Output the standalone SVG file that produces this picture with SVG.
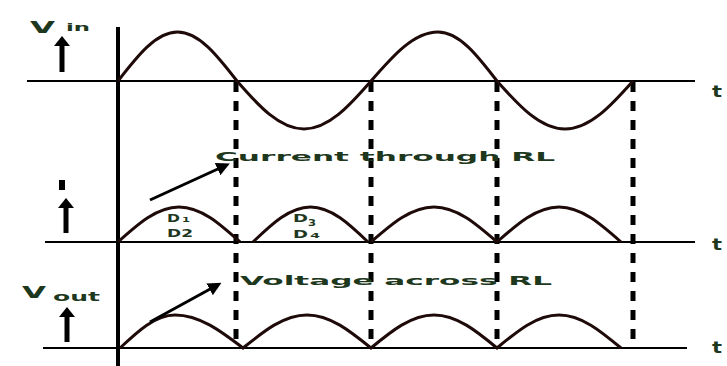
<svg xmlns="http://www.w3.org/2000/svg" width="727" height="366" viewBox="0 0 727 366">
<style>
.lbl{font-family:"DejaVu Sans","Liberation Sans",sans-serif;font-weight:bold;fill:#1e381e}
.wave{fill:none;stroke:#1f0a0a;stroke-width:3}
.base{stroke:#000;stroke-width:2}
.dash{stroke:#000;stroke-width:5;stroke-dasharray:10 9}
.shaft{stroke:#000;stroke-width:5}
.ptr{stroke:#000;stroke-width:3;marker-end:url(#ah)}
</style>
<defs>
<marker id="ah" viewBox="0 0 10 10" refX="2" refY="5" markerWidth="4.5" markerHeight="4.5" orient="auto">
<path d="M0,0 L10,5 L0,10 z" fill="#000"/>
</marker>
</defs>
<rect width="727" height="366" fill="#fff"/>
<g id="axes">
<line class="base" x1="27" y1="81" x2="695" y2="81"/>
<line class="base" x1="45" y1="242" x2="695" y2="242"/>
<line class="base" x1="43" y1="348" x2="687" y2="348"/>
<line x1="118" y1="27" x2="118" y2="366" stroke="#000" stroke-width="4"/>
</g>
<g id="dashes">
<line class="dash" x1="236" y1="82" x2="236" y2="348"/>
<line class="dash" x1="371" y1="82" x2="371" y2="348"/>
<line class="dash" x1="497" y1="82" x2="497" y2="348"/>
<line class="dash" x1="633" y1="82" x2="633" y2="348"/>
</g>
<g id="vin-wave">
<path class="wave" d="M118,81 C137.4,55.9 156,32 177.5,32 C199,32 217.6,55.9 237,81 C258.8,106.1 279.7,129 304,129 C328.3,129 349.2,106.1 371,81 C392.8,55.9 413.7,32 438,32 C459.4,32 477.8,55.9 497,81 C519.2,106.1 540.4,129 565,129 C589.6,129 610.8,106.1 633,81"/>
</g>
<g id="current-wave">
<path class="wave" d="M118,242 C137.9,224.1 156.9,207 179,207 C201.1,207 220.1,224.1 240,242"/>
<path class="wave" d="M253,242 C271.7,224.1 289.7,207 310.5,207 C331.3,207 349.3,224.1 368,242"/>
<path class="wave" d="M371,242 C391.5,224.1 411.2,207 434,207 C456.8,207 476.5,224.1 497,242"/>
<path class="wave" d="M497,242 C517.2,224.1 536.6,207 559,207 C581.4,207 600.8,224.1 621,242"/>
</g>
<g id="vout-wave">
<path class="wave" d="M120,348 C137.9,331.1 155.1,315 175,315 C199.6,315 220.8,331.1 243,348 C263.9,331.1 283.8,315 307,315 C330.2,315 350.1,331.1 371,348 C391.5,331.1 411.2,315 434,315 C456.8,315 476.5,331.1 497,348 C517.2,331.1 536.6,315 559,315 C581.4,315 600.8,331.1 621,348"/>
</g>
<g id="up-arrows">
<line class="shaft" x1="62" y1="44" x2="62" y2="72"/>
<path d="M54,46 L62,36 L70,46 z" fill="#000"/>
<rect x="59" y="180" width="6" height="10" fill="#000"/>
<line class="shaft" x1="66" y1="206" x2="66" y2="233"/>
<path d="M58,208 L66,198 L74,208 z" fill="#000"/>
<line class="shaft" x1="67" y1="315" x2="67" y2="342"/>
<path d="M59,317 L67,307 L75,317 z" fill="#000"/>
</g>
<g id="pointers">
<line class="ptr" x1="150" y1="200" x2="220" y2="168"/>
<line class="ptr" x1="150" y1="322" x2="212" y2="288"/>
</g>
<g id="labels">
<text class="lbl" x="30" y="33" font-size="15" textLength="25" lengthAdjust="spacingAndGlyphs">V</text>
<text class="lbl" x="66" y="31" font-size="11" textLength="24" lengthAdjust="spacingAndGlyphs">in</text>
<text class="lbl" x="22" y="298" font-size="15" textLength="24" lengthAdjust="spacingAndGlyphs">V</text>
<text class="lbl" x="53" y="301" font-size="13" textLength="47" lengthAdjust="spacingAndGlyphs">out</text>
<text class="lbl" x="215" y="161" font-size="12.5" textLength="340" lengthAdjust="spacingAndGlyphs">Current through RL</text>
<text class="lbl" x="240" y="285" font-size="13" textLength="312" lengthAdjust="spacingAndGlyphs">Voltage across RL</text>
<text class="lbl" x="167" y="222" font-size="10" textLength="13" lengthAdjust="spacingAndGlyphs">D</text>
<text class="lbl" x="182" y="222" font-size="7" textLength="8" lengthAdjust="spacingAndGlyphs">1</text>
<text class="lbl" x="167" y="237" font-size="10" textLength="26" lengthAdjust="spacingAndGlyphs">D2</text>
<text class="lbl" x="293" y="222" font-size="10" textLength="15" lengthAdjust="spacingAndGlyphs">D</text>
<text class="lbl" x="308" y="226" font-size="8" textLength="8" lengthAdjust="spacingAndGlyphs">3</text>
<text class="lbl" x="293" y="238" font-size="10" textLength="15" lengthAdjust="spacingAndGlyphs">D</text>
<text class="lbl" x="310" y="238" font-size="7" textLength="10" lengthAdjust="spacingAndGlyphs">4</text>
<text class="lbl" x="712" y="97" font-size="16" textLength="10" lengthAdjust="spacingAndGlyphs">t</text>
<text class="lbl" x="712" y="250" font-size="16" textLength="10" lengthAdjust="spacingAndGlyphs">t</text>
<text class="lbl" x="712" y="353" font-size="16" textLength="10" lengthAdjust="spacingAndGlyphs">t</text>
</g>
</svg>
